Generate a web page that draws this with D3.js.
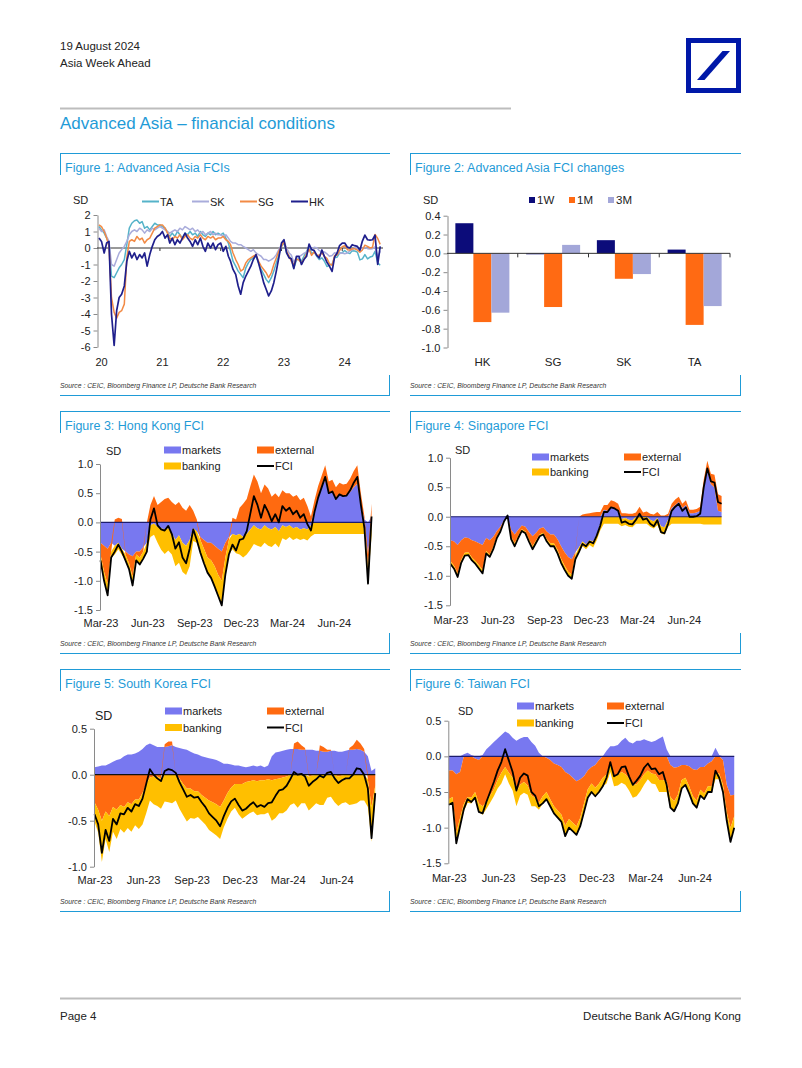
<!DOCTYPE html>
<html><head><meta charset="utf-8">
<script src="https://cdn.jsdelivr.net/npm/d3@7/dist/d3.min.js"></script>
<style>
body{margin:0;background:#fff;}
svg text{font-family:"Liberation Sans",Arial,Helvetica,sans-serif;}
</style></head>
<body><svg id="page" width="802" height="1068"></svg>
<script>
// ================= DATA =================
const yearTickLabels = ['20','21','22','23','24'];
const monthTickLabels = ['Mar-23','Jun-23','Sep-23','Dec-23','Mar-24','Jun-24'];

// Figure 1: semi-monthly readings (1st and 16th of each month), Jan 2020 - Aug 2024
const fig1Names = ['TA','SK','SG','HK'];
const fig1TA = [1.3,1.1,0.9,0.6,0.3,-1.7,-1.8,-1.5,-1.2,-1.0,-0.7,0.2,1.2,1.5,1.65,1.7,1.5,1.6,1.2,1.3,1.1,1.3,1.5,1.4,
 1.4,1.3,1.2,0.9,0.7,0.9,0.7,1.0,0.8,0.6,0.9,0.8,1.0,0.8,0.9,0.7,1.0,0.8,0.7,0.9,0.8,1.0,0.8,0.9,
 0.8,0.9,0.6,0.3,-0.2,-0.8,-1.1,-1.4,-1.6,-1.8,-1.2,-0.9,-0.7,-0.6,-0.5,-0.9,-1.3,-1.6,-1.9,-2.1,-1.8,-1.4,-0.9,-0.4,
 0.1,0.3,-0.3,-0.5,-0.68,-1.22,-0.74,-0.64,-0.8,-0.5,-0.2,0.1,-0.35,-0.24,-0.5,-0.7,-0.6,-0.8,-1.12,-1.05,-0.98,-0.58,-0.56,-0.3,
 -0.28,-0.15,-0.28,-0.34,-0.16,-0.18,-0.25,-0.72,-0.66,-0.4,-0.66,-0.55,-0.5,-0.2,-0.9,-1.05];
const fig1SK = [1.2,1.0,1.1,0.7,0.4,-1.0,-1.1,-0.7,-0.3,-0.1,0.1,0.4,0.8,1.0,1.1,1.0,1.2,1.1,0.9,1.1,1.0,1.2,1.1,1.2,
 1.3,1.2,1.1,1.0,0.9,1.0,1.1,1.0,1.2,1.1,1.3,1.2,1.1,1.2,1.0,1.1,0.9,1.0,0.8,0.9,1.0,0.8,0.9,0.8,
 0.8,0.7,0.8,0.6,0.4,0.3,0.3,0.2,0.2,0.1,0.0,-0.1,-0.2,-0.1,-0.3,-0.4,-0.5,-0.7,-0.7,-0.8,-0.7,-0.6,-0.4,-0.1,
 0.2,0.4,0.0,-0.3,-0.43,-0.85,-0.6,-0.54,-0.43,-0.32,-0.26,0.06,-0.04,0.04,0.02,-0.16,-0.22,-0.24,-0.35,-0.5,-0.45,-0.29,-0.33,-0.33,
 -0.3,-0.35,-0.3,-0.17,-0.12,0.03,-0.02,-0.08,-0.01,0.02,-0.04,-0.06,-0.04,0.07,-0.6,-0.2];
const fig1SG = [1.4,1.3,1.0,0.6,0.1,-3.0,-3.9,-4.25,-3.9,-3.8,-3.4,-0.6,0.4,0.5,0.4,0.7,0.5,0.6,0.3,0.5,0.6,0.9,1.2,1.3,
 1.4,1.4,1.2,0.9,0.6,0.5,0.7,0.6,0.8,0.5,0.7,0.8,0.6,0.5,0.7,0.6,0.8,0.6,0.5,0.7,0.6,0.7,0.5,0.6,
 0.6,0.7,0.5,0.4,0.2,-0.3,-0.7,-1.0,-1.4,-1.3,-0.9,-0.7,-0.6,-0.5,-0.4,-0.8,-1.1,-1.3,-1.5,-1.8,-1.5,-1.0,-0.6,-0.2,
 0.1,0.4,-0.2,-0.5,-0.8,-1.02,-0.66,-0.74,-0.9,-0.68,-0.36,-0.08,-0.45,-0.24,-0.42,-0.44,-0.3,-0.5,-0.62,-0.95,-1.05,-0.46,-0.42,-0.15,
 0.08,0.14,-0.1,-0.12,-0.05,-0.05,-0.12,-0.26,-0.12,0.17,0.1,0.0,0.05,0.82,0.58,0.22];
const fig1HK = [0.6,0.4,-0.3,0.3,0.4,-4.0,-5.9,-3.8,-3.0,-2.8,-2.3,-0.8,-0.2,-0.6,-0.3,-0.7,-0.4,-0.6,-0.3,-1.1,-0.4,0.1,0.5,0.7,
 0.8,1.0,0.6,0.8,0.3,0.6,0.2,0.5,0.3,0.6,0.9,0.6,0.4,0.1,0.5,0.2,0.6,0.1,-0.2,0.3,0.0,0.3,-0.1,0.2,
 0.3,-0.2,0.1,-0.5,-0.8,-1.3,-1.6,-2.3,-2.8,-2.1,-1.7,-1.4,-1.1,-0.7,-0.4,-0.9,-1.5,-2.1,-2.5,-2.9,-2.6,-2.1,-1.4,-0.6,
 0.3,0.5,-0.3,-0.6,-0.65,-1.25,-0.5,-0.5,-1.0,-0.7,-0.5,0.24,-0.1,-0.14,-0.45,-0.6,-0.12,-0.52,-0.86,-1.1,-1.42,-0.55,-0.3,0.15,
 0.3,0.3,0.05,0.0,0.2,0.14,0.1,-0.14,0.42,0.78,0.5,0.48,0.5,0.78,-1.0,0.1];

// Figure 2
const fig2Categories = ['HK','SG','SK','TA'];
const fig2Keys = ['1W','1M','3M'];
const fig2W1 = [0.32,-0.01,0.14,0.04];
const fig2M1 = [-0.73,-0.57,-0.27,-0.76];
const fig2M3 = [-0.63,0.09,-0.22,-0.56];

// Figures 3-6: weekly readings from 1 Mar 2023
const componentKeys = ['markets','external','banking'];
const hkMarkets = [-0.35,-0.4,-0.45,-0.35,-0.4,-0.35,-0.45,-0.5,-0.55,-0.58,-0.5,-0.5,-0.42,-0.35,
 -0.05,-0.02,-0.08,-0.1,-0.12,-0.1,-0.18,-0.3,-0.22,-0.35,-0.4,-0.3,-0.1,
 -0.15,-0.25,-0.3,-0.35,-0.35,-0.4,-0.45,-0.5,-0.35,-0.25,-0.2,-0.22,
 -0.2,-0.25,-0.2,-0.12,-0.05,-0.1,-0.12,-0.05,-0.1,-0.12,-0.08,-0.15,-0.05,-0.08,-0.05,-0.1,-0.08,-0.12,-0.1,-0.12,-0.05,
 0.2,0.42,0.6,0.72,0.5,0.52,0.42,0.48,0.45,0.45,0.52,0.6,0.66,0.3,0.05,-0.55,0.1];
const hkExternal = [-0.2,-0.45,-0.6,-0.15,0.05,0.08,0.06,-0.05,-0.15,-0.35,-0.05,-0.1,-0.08,0.0,
 0.3,0.45,0.3,0.35,0.4,0.42,0.35,0.3,0.35,0.25,0.2,0.3,0.2,
 0.05,-0.05,-0.15,-0.25,-0.3,-0.35,-0.45,-0.5,-0.25,-0.05,0.08,0.05,
 0.25,0.32,0.4,0.62,0.82,0.7,0.5,0.65,0.58,0.44,0.5,0.43,0.55,0.5,0.5,0.44,0.47,0.38,0.42,0.28,0.1,
 0.18,0.2,0.2,0.26,0.2,0.21,0.18,0.2,0.2,0.21,0.23,0.28,0.32,0.2,0.05,-0.25,0.22];
const hkBanking = [-0.1,-0.15,-0.2,-0.1,-0.15,-0.11,-0.11,-0.1,-0.1,-0.15,-0.1,-0.12,-0.12,-0.15,
 -0.2,-0.19,-0.27,-0.37,-0.42,-0.38,-0.37,-0.45,-0.47,-0.5,-0.5,-0.45,-0.22,
 -0.2,-0.22,-0.25,-0.26,-0.3,-0.35,-0.36,-0.42,-0.3,-0.25,-0.26,-0.31,
 -0.35,-0.35,-0.35,-0.35,-0.32,-0.3,-0.3,-0.3,-0.3,-0.3,-0.28,-0.28,-0.22,-0.22,-0.2,-0.2,-0.19,-0.18,-0.18,-0.19,-0.19,
 -0.2,-0.2,-0.2,-0.2,-0.2,-0.2,-0.2,-0.2,-0.2,-0.2,-0.2,-0.2,-0.2,-0.2,-0.2,-0.25,-0.22];

const sgMarkets = [-0.4,-0.42,-0.48,-0.4,-0.35,-0.36,-0.4,-0.42,-0.45,-0.48,-0.36,-0.4,-0.34,-0.24,-0.17,-0.06,0.02,
 -0.22,-0.3,-0.22,-0.15,-0.17,-0.26,-0.33,-0.27,-0.2,-0.18,-0.25,-0.3,-0.3,-0.38,-0.5,-0.6,-0.68,-0.72,
 -0.6,-0.52,-0.42,-0.47,-0.4,-0.42,-0.3,-0.12,
 0.12,0.1,0.16,0.14,0.1,-0.04,-0.02,-0.05,-0.06,0.0,0.05,0.0,0.0,-0.05,-0.08,-0.02,-0.16,-0.18,-0.05,
 0.15,0.2,0.25,0.15,0.2,0.06,0.06,0.07,0.1,0.48,0.78,0.55,0.5,0.1,0.08];
const sgExternal = [-0.35,-0.41,-0.48,-0.33,-0.26,-0.24,-0.29,-0.33,-0.37,-0.42,-0.22,-0.24,-0.17,-0.09,-0.05,-0.01,0.0,
 -0.12,-0.15,-0.1,-0.06,-0.08,-0.12,-0.17,-0.13,-0.1,-0.09,-0.13,-0.15,-0.15,-0.18,-0.21,-0.23,-0.25,-0.26,
 -0.05,0.0,0.04,0.05,0.06,0.07,0.08,0.08,
 0.08,0.1,0.12,0.12,0.12,0.06,0.06,0.05,0.05,0.07,0.12,0.07,0.09,0.05,0.04,0.08,0.02,0.02,0.05,
 0.07,0.09,0.09,0.07,0.08,0.06,0.06,0.06,0.07,0.15,0.17,0.18,0.21,0.28,0.27];
const sgBanking = [-0.05,-0.05,-0.06,-0.05,-0.05,-0.05,-0.05,-0.05,-0.06,-0.06,-0.04,-0.04,-0.04,-0.03,-0.03,-0.01,0.0,
 -0.04,-0.05,-0.04,-0.03,-0.03,-0.04,-0.05,-0.04,-0.03,-0.03,-0.04,-0.05,-0.05,-0.06,-0.07,-0.07,-0.07,-0.07,
 -0.07,-0.08,-0.08,-0.08,-0.08,-0.1,-0.1,-0.11,
 -0.12,-0.12,-0.12,-0.12,-0.12,-0.12,-0.12,-0.12,-0.12,-0.12,-0.12,-0.12,-0.12,-0.12,-0.12,-0.12,-0.12,-0.12,-0.12,
 -0.12,-0.12,-0.12,-0.12,-0.12,-0.12,-0.12,-0.12,-0.12,-0.13,-0.13,-0.13,-0.13,-0.13,-0.13];

const skMarkets = [0.08,0.09,0.1,0.1,0.12,0.14,0.16,0.17,0.2,0.22,0.22,0.23,0.25,0.28,0.32,0.34,
 0.32,0.3,0.3,0.3,0.31,0.32,0.3,0.29,0.28,0.27,0.25,0.23,0.22,0.2,0.19,0.18,
 0.17,0.16,0.14,0.12,0.12,0.11,0.1,0.1,0.09,0.08,0.09,0.1,0.09,0.1,0.08,0.1,
 0.2,0.24,0.25,0.26,0.27,0.28,0.28,0.28,0.27,0.27,0.27,0.27,0.26,0.26,0.25,0.25,
 0.26,0.26,0.25,0.25,0.26,0.27,0.27,0.28,0.27,0.25,0.2,0.04,0.07];
const skExternal = [-0.3,-0.38,-0.5,-0.4,-0.45,-0.35,-0.38,-0.33,-0.35,-0.3,-0.32,-0.27,-0.27,-0.2,-0.1,-0.03,
 -0.02,-0.02,-0.04,0.03,0.05,0.04,0.0,-0.04,-0.1,-0.15,-0.15,-0.18,-0.18,-0.22,-0.25,-0.28,
 -0.3,-0.32,-0.35,-0.28,-0.2,-0.14,-0.1,-0.1,-0.1,-0.08,-0.07,-0.06,-0.07,-0.06,-0.06,-0.05,
 -0.06,-0.05,-0.04,-0.03,-0.02,0.0,0.06,0.08,0.05,0.02,-0.02,-0.01,0.0,0.06,0.05,0.02,
 0.01,0.0,-0.02,-0.01,0.0,0.02,0.05,0.1,0.07,0.03,-0.05,-0.35,-0.12];
const skBanking = [-0.21,-0.25,-0.45,-0.3,-0.39,-0.27,-0.32,-0.26,-0.28,-0.28,-0.3,-0.28,-0.32,-0.34,-0.32,-0.25,
 -0.3,-0.32,-0.33,-0.29,-0.3,-0.31,-0.28,-0.33,-0.34,-0.36,-0.32,-0.3,-0.28,-0.28,-0.29,-0.32,
 -0.33,-0.34,-0.35,-0.29,-0.28,-0.26,-0.26,-0.33,-0.38,-0.37,-0.35,-0.34,-0.37,-0.37,-0.37,-0.36,
 -0.44,-0.42,-0.38,-0.39,-0.37,-0.33,-0.31,-0.36,-0.31,-0.31,-0.37,-0.34,-0.31,-0.33,-0.33,-0.25,
 -0.24,-0.3,-0.32,-0.3,-0.3,-0.33,-0.32,-0.31,-0.28,-0.28,-0.3,-0.38,-0.15];

const taMarkets = [-0.2,-0.2,-0.25,-0.22,0.03,0.05,0.02,-0.03,-0.05,0.02,0.1,0.15,0.2,0.25,0.3,0.35,
 0.32,0.26,0.22,0.25,0.27,0.27,0.2,0.15,0.05,0.0,-0.02,-0.05,-0.1,-0.12,-0.15,-0.22,
 -0.25,-0.3,-0.35,-0.32,-0.28,-0.2,-0.15,-0.12,-0.05,0.0,0.08,0.14,0.14,0.16,0.22,0.26,
 0.2,0.18,0.22,0.22,0.24,0.22,0.2,0.22,0.25,0.28,0.1,-0.12,-0.16,-0.15,-0.12,-0.12,
 -0.14,-0.18,-0.19,-0.15,-0.15,-0.1,-0.07,0.12,0.02,-0.05,-0.4,-0.55,-0.54];
const taExternal = [-0.4,-0.37,-0.82,-0.64,-0.67,-0.57,-0.58,-0.47,-0.61,-0.7,-0.64,-0.55,-0.46,-0.33,-0.23,-0.15,
 -0.23,-0.3,-0.5,-0.4,-0.36,-0.41,-0.55,-0.58,-0.65,-0.56,-0.48,-0.55,-0.6,-0.64,-0.67,-0.75,
 -0.63,-0.63,-0.63,-0.54,-0.38,-0.26,-0.23,-0.32,-0.33,-0.3,-0.25,-0.1,-0.27,-0.26,-0.22,-0.25,
 -0.31,-0.4,-0.39,-0.33,-0.25,-0.2,-0.24,-0.25,-0.33,-0.33,-0.35,-0.45,-0.47,-0.39,-0.21,-0.18,
 -0.28,-0.38,-0.43,-0.32,-0.37,-0.32,-0.35,-0.24,-0.24,-0.35,-0.38,-0.45,-0.3];
const taBanking = [-0.08,-0.08,-0.15,-0.12,-0.1,-0.08,-0.08,-0.08,-0.12,-0.12,-0.1,-0.1,-0.1,-0.12,-0.15,-0.1,
 -0.15,-0.18,-0.2,-0.15,-0.15,-0.13,-0.15,-0.12,-0.1,-0.1,-0.1,-0.1,-0.1,-0.1,-0.1,-0.15,
 -0.12,-0.12,-0.12,-0.12,-0.12,-0.12,-0.12,-0.12,-0.12,-0.12,-0.13,-0.12,-0.15,-0.15,-0.15,-0.15,
 -0.17,-0.18,-0.17,-0.16,-0.15,-0.12,-0.14,-0.14,-0.17,-0.17,-0.15,-0.15,-0.14,-0.12,-0.12,-0.1,
 -0.1,-0.1,-0.1,-0.08,-0.08,-0.08,-0.08,-0.08,-0.08,-0.1,-0.12,-0.2,-0.16];

// ================= STYLE =================
const BLUE = '#1f9bd7';
const TXT = '#222';
const COL = {TA:'#55b3c9', SK:'#a9acdb', SG:'#f28a45', HK:'#1f1f8c',
  '1W':'#0c0c7a','1M':'#ff6a13','3M':'#a3a7d9',
  markets:'#7878f0', external:'#ff6a10', banking:'#ffbf00'};

const svg = d3.select('#page');

function txt(x, y, s, size, opts={}) {
  const t = svg.append('text').attr('x', x).attr('y', y).text(s)
    .attr('font-size', size).attr('fill', opts.fill || TXT);
  if (opts.anchor) t.attr('text-anchor', opts.anchor);
  if (opts.italic) t.attr('font-style', 'italic');
  return t;
}

// ---------- header / footer ----------
txt(60, 50, '19 August 2024', 11.5);
txt(60, 67, 'Asia Week Ahead', 11.5);
svg.append('rect').attr('x', 686).attr('y', 38).attr('width', 55).attr('height', 55).attr('fill', '#0018a8');
svg.append('rect').attr('x', 691).attr('y', 43).attr('width', 45).attr('height', 45).attr('fill', '#fff');
svg.append('polygon').attr('points', [[697,80],[704.5,80],[730,51],[722.5,51]].map(p=>p.join(',')).join(' '))
  .attr('fill', '#0018a8');
svg.append('line').attr('x1', 60).attr('x2', 511).attr('y1', 108.5).attr('y2', 108.5).attr('stroke', '#bdbdbd').attr('stroke-width', 2);
txt(60, 129, 'Advanced Asia \u2013 financial conditions', 17, {fill: BLUE});
svg.append('line').attr('x1', 60).attr('x2', 741).attr('y1', 998.5).attr('y2', 998.5).attr('stroke', '#bdbdbd').attr('stroke-width', 2);
txt(60, 1020, 'Page 4', 11.5);
txt(741, 1020, 'Deutsche Bank AG/Hong Kong', 11.5, {anchor: 'end'});

// ---------- panel frames ----------
function panel(x0, x1, yTop, yBot, title) {
  const g = svg.append('g').attr('stroke', BLUE).attr('stroke-width', 1).attr('fill', 'none');
  g.append('line').attr('x1', x0).attr('x2', x1).attr('y1', yTop + 0.5).attr('y2', yTop + 0.5);
  g.append('line').attr('x1', x0 + 0.5).attr('x2', x0 + 0.5).attr('y1', yTop).attr('y2', yTop + 22);
  g.append('line').attr('x1', x0).attr('x2', x1).attr('y1', yBot + 0.5).attr('y2', yBot + 0.5);
  g.append('line').attr('x1', x1 - 0.5).attr('x2', x1 - 0.5).attr('y1', yBot - 20).attr('y2', yBot);
  txt(x0 + 5, yTop + 19, title, 12.5, {fill: BLUE});
  txt(x0, yBot - 7, 'Source : CEIC, Bloomberg Finance LP, Deutsche Bank Research', 6.8, {italic: true, fill: '#333'});
}
panel(60, 390, 153, 395, 'Figure 1: Advanced Asia FCIs');
panel(410, 741, 153, 395, 'Figure 2: Advanced Asia FCI changes');
panel(60, 390, 411, 653, 'Figure 3: Hong Kong FCI');
panel(410, 741, 411, 653, 'Figure 4: Singapore FCI');
panel(60, 390, 669, 911, 'Figure 5: South Korea FCI');
panel(410, 741, 669, 911, 'Figure 6: Taiwan FCI');

function styleAxis(g) {
  g.select('.domain').attr('stroke', '#8a8a8a');
  g.selectAll('.tick line').attr('stroke', '#8a8a8a');
  g.selectAll('text').attr('font-size', 11).attr('fill', TXT)
    .attr('font-family', '"Liberation Sans",Arial,Helvetica,sans-serif');
}

// ================= FIGURE 1 =================
(function () {
  const dates = fig1TA.map((_, i) => new Date(2020, Math.floor(i / 2), i % 2 ? 16 : 1));
  const x = d3.scaleTime().domain([new Date(2020, 0, 1), new Date(2024, 7, 16)]).range([99, 380.2]);
  const y = d3.scaleLinear().domain([-6, 2]).range([347, 215]);
  const ay = svg.append('g').attr('transform', 'translate(97.5,0)')
    .call(d3.axisLeft(y).tickValues(d3.range(-6, 3)).tickFormat(d => String(d)).tickSize(4).tickSizeOuter(0).tickPadding(3));
  styleAxis(ay);
  const parseY = d3.timeParse('%y');
  const ax = svg.append('g').attr('transform', 'translate(0,355)')
    .call(d3.axisBottom(x).tickValues(yearTickLabels.map(parseY)).tickFormat(d3.timeFormat('%y')).tickSize(0).tickPadding(3));
  ax.select('.domain').remove();
  styleAxis(ax);
  ax.selectAll('text').attr('dx', 2);
  svg.append('line').attr('x1', 97).attr('x2', 383).attr('y1', y(0)).attr('y2', y(0)).attr('stroke', '#333').attr('stroke-width', 1);
  yearTickLabels.slice(1).map(parseY).forEach(d => {
    svg.append('line').attr('x1', x(d)).attr('x2', x(d)).attr('y1', y(0)).attr('y2', y(0) + 3).attr('stroke', '#333');
  });
  const series = {TA: fig1TA, SK: fig1SK, SG: fig1SG, HK: fig1HK};
  const line = d3.line().x((d, i) => x(dates[i])).y(d => y(d));
  fig1Names.forEach(k => {
    svg.append('path').datum(series[k]).attr('d', line).attr('fill', 'none')
      .attr('stroke', COL[k]).attr('stroke-width', k === 'HK' ? 1.7 : 1.5).attr('stroke-linejoin', 'round');
  });
  txt(73, 204, 'SD', 11);
  const lx = [142, 192, 240, 291];
  fig1Names.forEach((k, i) => {
    svg.append('line').attr('x1', lx[i]).attr('x2', lx[i] + 17).attr('y1', 201.5).attr('y2', 201.5)
      .attr('stroke', COL[k]).attr('stroke-width', 2);
    txt(lx[i] + 18, 205.5, k, 11);
  });
})();

// ================= FIGURE 2 =================
(function () {
  const vals = {'1W': fig2W1, '1M': fig2M1, '3M': fig2M3};
  const x0 = d3.scaleBand().domain(fig2Categories).range([447, 730]).padding(0);
  const x1 = d3.scaleBand().domain(fig2Keys).range([0, x0.bandwidth()]).paddingInner(0).paddingOuter(0.465);
  const y = d3.scaleLinear().domain([-1.0, 0.4]).range([347.5, 215.7]);
  const ay = svg.append('g').attr('transform', 'translate(447.5,0)')
    .call(d3.axisLeft(y).tickValues([0.4, 0.2, 0, -0.2, -0.4, -0.6, -0.8, -1.0]).tickFormat(d => d.toFixed(1)).tickSize(4).tickSizeOuter(0).tickPadding(3));
  styleAxis(ay);
  fig2Categories.forEach((c, ci) => {
    fig2Keys.forEach(k => {
      const v = vals[k][ci];
      svg.append('rect').attr('x', x0(c) + x1(k)).attr('width', x1.bandwidth())
        .attr('y', y(Math.max(0, v))).attr('height', Math.abs(y(v) - y(0)))
        .attr('fill', COL[k]);
    });
  });
  svg.append('line').attr('x1', 447).attr('x2', 730).attr('y1', y(0)).attr('y2', y(0)).attr('stroke', '#333');
  fig2Categories.forEach(c => {
    const xe = x0(c) + x0.bandwidth();
    svg.append('line').attr('x1', xe).attr('x2', xe).attr('y1', y(0)).attr('y2', y(0) + 4).attr('stroke', '#333');
  });
  const ax = svg.append('g').attr('transform', 'translate(0,355)')
    .call(d3.axisBottom(x0).tickSize(0).tickPadding(3));
  ax.select('.domain').remove();
  styleAxis(ax);
  ax.selectAll('text').attr('font-size', 11.5);
  txt(423, 204, 'SD', 11);
  const lx = [529, 569, 608];
  fig2Keys.forEach((k, i) => {
    svg.append('rect').attr('x', lx[i]).attr('y', 197).attr('width', 6).attr('height', 6).attr('fill', COL[k]);
    txt(lx[i] + 8, 204, k, 11.5);
  });
})();

// ================= FIGURES 3-6 =================
const weeklyDates = hkMarkets.map((_, i) => d3.timeDay.offset(new Date(2023, 2, 1), 7 * i));
const parseM = d3.timeParse('%b-%y');

function stackChart(cfg) {
  const rows = weeklyDates.map((d, i) => ({date: d, markets: cfg.m[i], external: cfg.e[i], banking: cfg.b[i]}));
  const x = d3.scaleTime().domain([new Date(2023, 2, 1), new Date(2024, 7, 16)]).range(cfg.xr);
  const y = d3.scaleLinear().domain(cfg.yd).range(cfg.yr);
  const layers = d3.stack().keys(componentKeys).offset(d3.stackOffsetDiverging)(rows);
  const area = d3.area().x(d => x(d.data.date)).y0(d => y(d[0])).y1(d => y(d[1]));
  layers.forEach(L => {
    svg.append('path').datum(L).attr('d', area).attr('fill', COL[L.key]);
  });
  svg.append('line').attr('x1', cfg.xr[0]).attr('x2', x(weeklyDates[weeklyDates.length - 1]))
    .attr('y1', y(0)).attr('y2', y(0)).attr('stroke', cfg.zero).attr('stroke-width', 1.2);
  const fci = rows.map(r => r.markets + r.external + r.banking);
  svg.append('path').datum(fci).attr('d', d3.line().x((d, i) => x(weeklyDates[i])).y(d => y(d)))
    .attr('fill', 'none').attr('stroke', '#000').attr('stroke-width', 1.8).attr('stroke-linejoin', 'round');
  const ay = svg.append('g').attr('transform', `translate(${cfg.xr[0] - 0.5},0)`)
    .call(d3.axisLeft(y).tickValues(cfg.ticks).tickFormat(d => d.toFixed(1)).tickSize(4).tickSizeOuter(0).tickPadding(3));
  styleAxis(ay);
  const ax = svg.append('g').attr('transform', `translate(0,${cfg.xly - 7})`)
    .call(d3.axisBottom(x).tickValues(monthTickLabels.map(parseM)).tickFormat(d3.timeFormat('%b-%y')).tickSize(0).tickPadding(3));
  ax.select('.domain').remove();
  styleAxis(ax);
  // legend
  const L = cfg.leg;
  [['markets', L[0], L[1]], ['external', L[2], L[1]], ['banking', L[0], L[3]]].forEach(([k, lx, ly]) => {
    svg.append('rect').attr('x', lx).attr('y', ly - 3.5).attr('width', 17).attr('height', 7).attr('fill', COL[k]);
    txt(lx + 18, ly + 4, k, 11);
  });
  svg.append('line').attr('x1', L[2]).attr('x2', L[2] + 17).attr('y1', L[3]).attr('y2', L[3]).attr('stroke', '#000').attr('stroke-width', 2);
  txt(L[2] + 18, L[3] + 4, 'FCI', 11);
  txt(cfg.sd[0], cfg.sd[1] + 4, 'SD', cfg.sdSize || 11);
}

stackChart({m: hkMarkets, e: hkExternal, b: hkBanking, xr: [100.5, 372.6], yd: [-1.5, 1.0], yr: [610, 464],
  ticks: [1.0, 0.5, 0, -0.5, -1.0, -1.5], zero: '#1c1c6e', xly: 623, leg: [164, 450, 257, 466], sd: [106, 451]});
stackChart({m: sgMarkets, e: sgExternal, b: sgBanking, xr: [450.5, 722.6], yd: [-1.5, 1.0], yr: [605.3, 457.7],
  ticks: [1.0, 0.5, 0, -0.5, -1.0, -1.5], zero: '#1c1c6e', xly: 620.5, leg: [532, 457, 624, 472], sd: [455, 450]});
stackChart({m: skMarkets, e: skExternal, b: skBanking, xr: [94.5, 376.3], yd: [-1.0, 0.5], yr: [866.7, 728.7],
  ticks: [0.5, 0, -0.5, -1.0], zero: '#111', xly: 880.5, leg: [165, 711, 267, 727.5], sd: [95, 716], sdSize: 12.5});
stackChart({m: taMarkets, e: taExternal, b: taBanking, xr: [448.8, 735.3], yd: [-1.5, 0.5], yr: [863.3, 720.7],
  ticks: [0.5, 0, -0.5, -1.0, -1.5], zero: '#1c1c6e', xly: 878, leg: [517, 706, 607, 723], sd: [458, 711]});
</script>
</body></html>
